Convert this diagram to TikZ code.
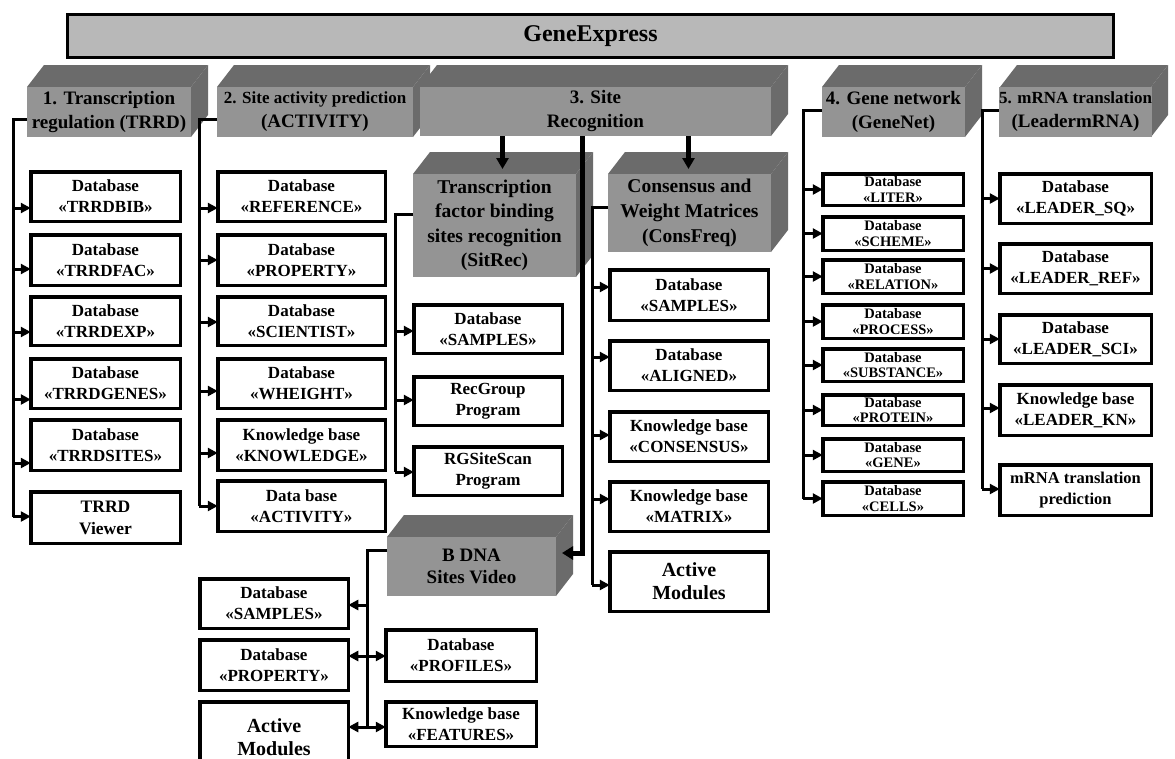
\documentclass[tikz,border=0pt]{standalone}
\usepackage{fontspec}
\setmainfont{Liberation Serif}
\usetikzlibrary{arrows.meta,calc}
\newcommand\fz[2]{\fontsize{#1}{#2}\selectfont\bfseries}
\tikzset{
  box/.style={draw, line width=3.5pt, fill=white, align=center, inner sep=0pt, outer sep=0pt, font=\fz{17}{21}},
  gbox/.style={box, font=\fz{14.5}{15.5}},
  bigbox/.style={box, font=\fz{20}{23}},
  plate/.style={fill=black!42, align=center, inner sep=0pt, outer sep=0pt, font=\fz{19}{24}},
  topface/.style={fill=black!58},
  banner/.style={draw, line width=3pt, fill=black!28, inner sep=0pt, font=\fz{24}{28}},
  trunk/.style={line width=3pt},
  arr/.style={line width=3pt, -{Triangle[length=10pt,width=10pt]}},
  bigarr/.style={line width=4.5pt, -{Triangle[length=11pt,width=12pt]}},
}
% box: name, x0, y0, x1, y1, text
\newcommand\bx[7][box]{\node[#1, minimum width={#5-#3-3.5}, minimum height={#6-#4-3.5}] (#2) at ({(#3+#5)/2},{(#4+#6)/2}) {#7};}
% plate: name, front x0, top y0, front x1, bottom y1, text
\newcommand\plate[7][plate]{%
  \fill[topface] (#3,{#4+22}) -- ({#3+17},#4) -- ({#5+17},#4) -- (#5,{#4+22}) -- cycle;
  \fill[topface] (#5,{#4+22}) -- ({#5+17},#4) -- ({#5+17},{#6-22}) -- (#5,#6) -- cycle;
  \node[#1, minimum width={#5-#3}, minimum height={#6-#4-22}] (#2) at ({(#3+#5)/2},{(#4+22+#6)/2}) {#7};}
% arrow from trunk to the left side of a box
\newcommand\harr[3]{\draw[arr] ($(#1 |- #2.west)+(0,#3)$) -- ($(#2.west)+(0,#3)$);}
% arrow from trunk to the right side of a box
\newcommand\larr[3]{\draw[arr] ($(#1 |- #2.east)+(0,#3)$) -- ($(#2.east)+(0,#3)$);}
\begin{document}
\begin{tikzpicture}[x=1pt,y=-1pt]
\useasboundingbox (0,0) rectangle (1175,758);
\fill[white] (0,0) rectangle (1175,758);

\node[banner, minimum width=1046, minimum height=43] (ge) at (590.5,36) {GeneExpress};

% top level plates
\plate{p1}{27}{65}{191}{137}{1. Transcription\\regulation (TRRD)}
\plate{p2}{217}{65}{413}{137}{{\fz{17}{20}2. Site activity prediction}\\{\fz{19}{20}(ACTIVITY)}}
\plate{p3}{420}{65}{771}{136}{3. Site\\Recognition}
\plate{p4}{822}{65}{965}{137}{4. Gene network\\(GeneNet)}
\plate{p5}{1000}{65}{1151}{137}{{\fz{17}{21}5. mRNA translation}\\(LeadermRNA)}

% sub plates
\plate[plate,font=\fz{19.5}{24.5}]{sitrec}{413}{152}{576}{277}{Transcription\\factor binding\\sites recognition\\(SitRec)}
\plate[plate,font=\fz{19.5}{25}]{consfreq}{608}{152}{771}{252}{Consensus and\\Weight Matrices\\(ConsFreq)}
\plate[plate,font=\fz{19}{22}]{bdna}{387}{515}{556}{596}{B DNA\\Sites Video}

% column 1
\bx{c11}{29}{170}{182}{223}{Database\\«TRRDBIB»}
\bx{c12}{29}{233}{182}{287}{Database\\«TRRDFAC»}
\bx{c13}{29}{295}{182}{347}{Database\\«TRRDEXP»}
\bx{c14}{29}{357}{182}{410}{Database\\«TRRDGENES»}
\bx{c15}{29}{418}{182}{472}{Database\\«TRRDSITES»}
\bx[box,font=\fz{17.5}{22}]{c16}{29}{490}{182}{545}{TRRD\\Viewer}

% column 2
\bx{c21}{216}{170}{387}{223}{Database\\«REFERENCE»}
\bx{c22}{216}{233}{387}{287}{Database\\«PROPERTY»}
\bx{c23}{216}{295}{387}{347}{Database\\«SCIENTIST»}
\bx{c24}{216}{357}{387}{410}{Database\\«WHEIGHT»}
\bx{c25}{216}{418}{387}{472}{Knowledge base\\«KNOWLEDGE»}
\bx{c26}{216}{479}{387}{533}{Data base\\«ACTIVITY»}

% SitRec column
\bx{s1}{412}{303}{564}{355}{Database\\«SAMPLES»}
\bx{s2}{412}{375}{564}{427}{RecGroup\\Program}
\bx{s3}{412}{445}{564}{497}{RGSiteScan\\Program}

% ConsFreq column
\bx{f1}{608}{268}{770}{322}{Database\\«SAMPLES»}
\bx{f2}{608}{339}{770}{392}{Database\\«ALIGNED»}
\bx{f3}{608}{410}{770}{463}{Knowledge base\\«CONSENSUS»}
\bx{f4}{608}{480}{770}{533}{Knowledge base\\«MATRIX»}
\bx[bigbox]{f5}{608}{550}{770}{613}{Active\\Modules}

% GeneNet column
\bx[gbox]{g1}{821}{172}{965}{207}{Database\\«LITER»}
\bx[gbox]{g2}{821}{215}{965}{252}{Database\\«SCHEME»}
\bx[gbox]{g3}{821}{258}{965}{295}{Database\\«RELATION»}
\bx[gbox]{g4}{821}{303}{965}{340}{Database\\«PROCESS»}
\bx[gbox]{g5}{821}{347}{965}{383}{Database\\«SUBSTANCE»}
\bx[gbox]{g6}{821}{393}{965}{427}{Database\\«PROTEIN»}
\bx[gbox]{g7}{821}{437}{965}{473}{Database\\«GENE»}
\bx[gbox]{g8}{821}{480}{965}{517}{Database\\«CELLS»}

% LeadermRNA column
\bx{l1}{998}{172}{1153}{225}{Database\\«LEADER\_SQ»}
\bx{l2}{998}{242}{1153}{295}{Database\\«LEADER\_REF»}
\bx{l3}{998}{313}{1153}{365}{Database\\«LEADER\_SCI»}
\bx{l4}{998}{383}{1153}{437}{Knowledge base\\«LEADER\_KN»}
\bx[box,font=\fz{16.5}{21}]{l5}{998}{463}{1153}{517}{mRNA translation\\prediction}

% B DNA column
\bx{d1}{198}{577}{350}{630}{Database\\«SAMPLES»}
\bx{d2}{198}{638}{350}{692}{Database\\«PROPERTY»}
\bx[bigbox]{d3}{198}{700}{350}{775}{Active\\Modules}
\bx{d4}{384}{628}{538}{683}{Database\\«PROFILES»}
\bx{d5}{384}{700}{538}{748}{Knowledge base\\«FEATURES»}

% trunks
\coordinate (t1) at (13,0);
\coordinate (t2) at (199,0);
\coordinate (t3) at (395,0);
\coordinate (t4) at (592,0);
\coordinate (t5) at (803,0);
\coordinate (t7) at (982,0);
\coordinate (t6) at (367,0);
\coordinate (v3) at (582,0);

\draw[trunk] ($(p1.west)+(0,7)$) -| ($(t1 |- c16.west)+(0,-1)$);
\harr{t1}{c11}{11.5}\harr{t1}{c12}{9}\harr{t1}{c13}{11}\harr{t1}{c14}{16}\harr{t1}{c15}{18}\harr{t1}{c16}{-1}

\draw[trunk] ($(p2.west)+(0,7)$) -| ($(t2 |- c26.west)+(0,0)$);
\harr{t2}{c21}{11.5}\harr{t2}{c22}{0}\harr{t2}{c23}{1}\harr{t2}{c24}{7.5}\harr{t2}{c25}{8}\harr{t2}{c26}{0}

\draw[trunk] ($(sitrec.west)+(0,-11)$) -| ($(t3 |- s3.west)+(0,1)$);
\harr{t3}{s1}{2}\harr{t3}{s2}{-1}\harr{t3}{s3}{1}

\draw[trunk] ($(consfreq.west)+(0,-5.5)$) -| ($(t4 |- f5.west)+(0,3.5)$);
\harr{t4}{f1}{-8}\harr{t4}{f2}{-8.5}\harr{t4}{f3}{-1.5}\harr{t4}{f4}{-7.5}\harr{t4}{f5}{3.5}

\draw[trunk] ($(p4.west)+(0,-2)$) -| ($(t5 |- g8.west)+(0,0)$);
\harr{t5}{g1}{0}\harr{t5}{g2}{0}\harr{t5}{g3}{0}\harr{t5}{g4}{0}\harr{t5}{g5}{0}\harr{t5}{g6}{0}\harr{t5}{g7}{0}\harr{t5}{g8}{0}

\draw[trunk] ($(p5.west)+(0,-2)$) -| ($(t7 |- l5.west)+(0,-1)$);
\harr{t7}{l1}{0}\harr{t7}{l2}{0}\harr{t7}{l3}{0}\harr{t7}{l4}{-2}\harr{t7}{l5}{-1}

\draw[trunk] ($(bdna.west)+(0,-16.5)$) -| ($(t6 |- d3.east)+(0,-10.5)$);
\larr{t6}{d1}{1.5}\larr{t6}{d2}{-9}\larr{t6}{d3}{-10.5}
\harr{t6}{d4}{0.5}\harr{t6}{d5}{3}

% from site recognition
\draw[bigarr] ($(p3.south -| sitrec.north)+(8,0)$) -- ($(sitrec.north)+(8,-5)$);
\draw[bigarr] ($(p3.south -| consfreq.north)+(-1,0)$) -- ($(consfreq.north)+(-1,-5)$);
\draw[line width=5pt, -{Triangle[length=11pt,width=13pt]}] (v3 |- p3.south) |- ($(bdna.east)+(6,-13.5)$);
\end{tikzpicture}
\end{document}
